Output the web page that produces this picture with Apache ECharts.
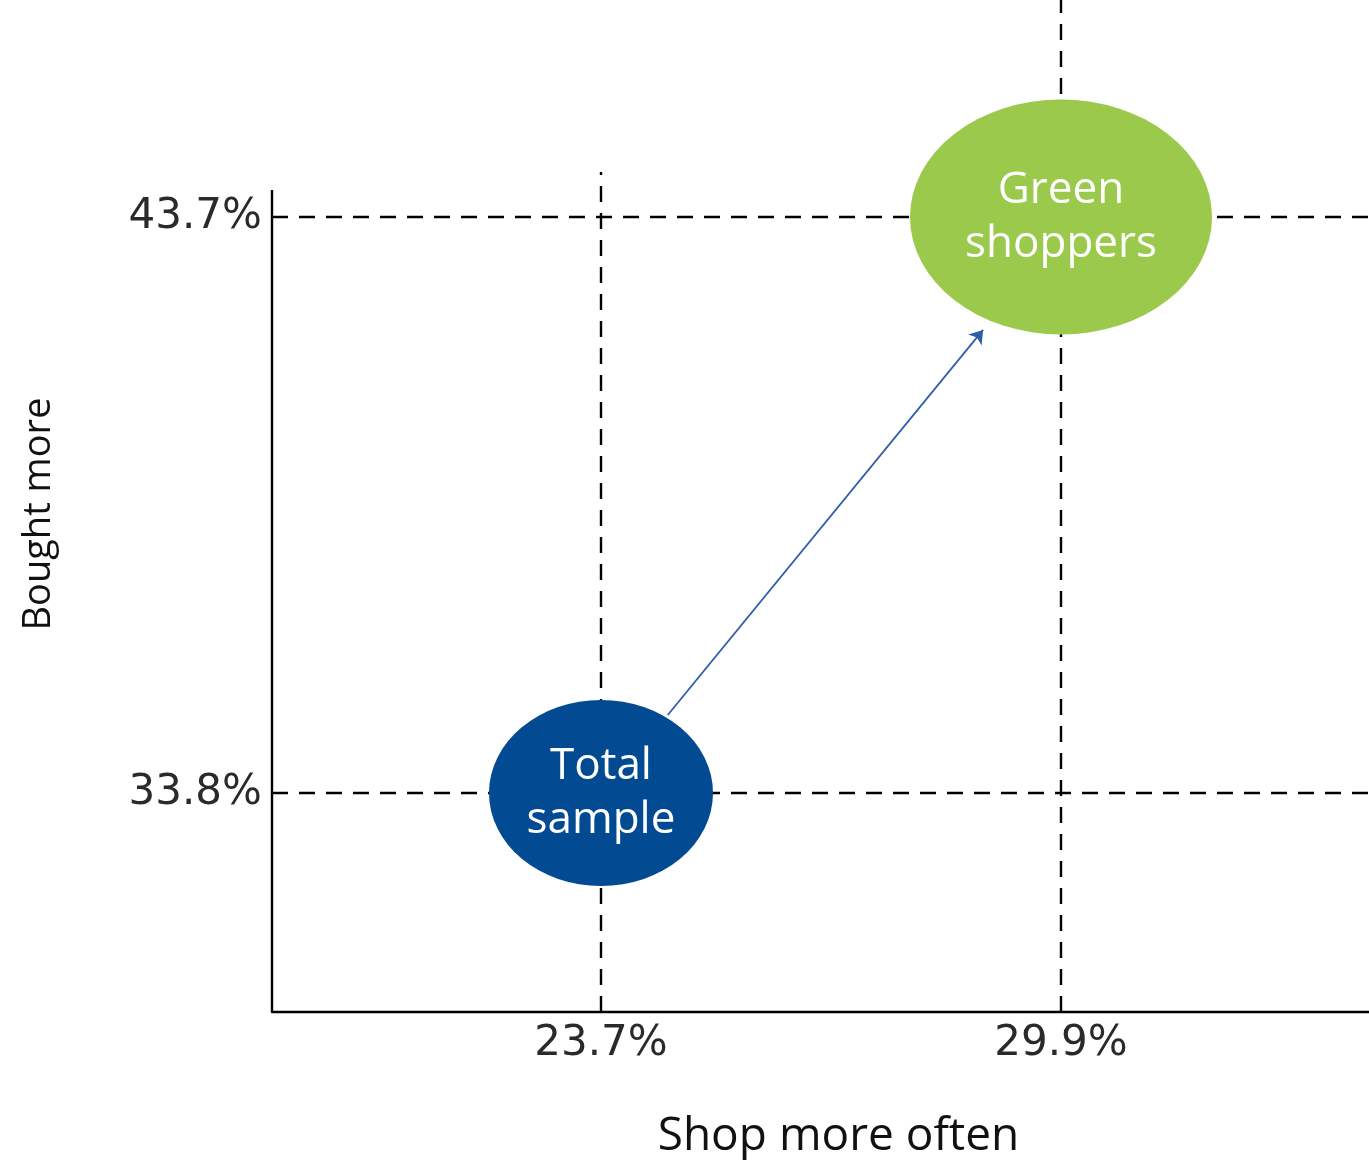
<!DOCTYPE html>
<html>
<head>
<meta charset="utf-8">
<script src="https://cdn.jsdelivr.net/npm/echarts@6/dist/echarts.min.js"></script>
<style>
html,body{margin:0;padding:0;background:#fff;}
#c{width:1369px;height:1160px;}
</style>
</head>
<body>
<div id="c"></div>
<script>
// ---- data ----
const categories = ['Total sample', 'Green shoppers'];
const labelLines = ['Total\nsample', 'Green\nshoppers'];
const shopMoreOften = [23.7, 29.9];   // x (%)
const boughtMore = [33.8, 43.7];      // y (%)
const xTicks = [23.7, 29.9];
const yTicks = [33.8, 43.7];
const arrowFrom = [24.6, 35.14];
const arrowTo = [28.85, 41.76];

// ---- view settings ----
const X_MIN = 19.266, X_MAX = 34.051;
const Y_MIN = 30.036, Y_MAX = 47.43;
const Y_AXIS_TOP = 44.164;     // where the drawn y axis line ends
const V_LINE_TOPS = [44.473, Y_MAX];
const bubbleColors = ['#024a92', '#9bc94c'];
const bubbleSizes = [[224, 186], [302, 235]];

const chart = echarts.init(document.getElementById('c'));

const dashStyle = { color: '#000', width: 2.4, type: [16, 11], opacity: 1 };

const refLines = [];
shopMoreOften.forEach((x, i) => {
  refLines.push([{ coord: [x, Y_MIN], lineStyle: dashStyle }, { coord: [x, V_LINE_TOPS[i]] }]);
});
boughtMore.forEach(y => {
  refLines.push([{ coord: [X_MIN, y], lineStyle: dashStyle }, { coord: [X_MAX, y] }]);
});
// y axis line (shorter than plot)
refLines.push([{ coord: [X_MIN, Y_MIN], lineStyle: { color: '#000', width: 2.4, type: 'solid', opacity: 1 } }, { coord: [X_MIN, Y_AXIS_TOP] }]);

chart.setOption({
  animation: false,
  grid: { left: 272, right: 0, top: 0, bottom: 148, containLabel: false, outerBoundsMode: 'none' },
  xAxis: {
    type: 'value', min: X_MIN, max: X_MAX,
    name: 'Shop more often', nameLocation: 'middle', nameGap: 102,
    nameTextStyle: { fontFamily: 'Open Sans', fontSize: 46, color: '#111', padding: [0, 0, 0, 36] },
    axisLine: { show: true, lineStyle: { color: '#000', width: 2.4 } },
    axisTick: { show: true, inside: true, length: 8, customValues: xTicks, lineStyle: { color: '#000', width: 2 } },
    axisLabel: {
      customValues: xTicks, margin: 11,
      formatter: v => v.toFixed(1) + '%',
      fontFamily: 'DejaVu Sans', fontSize: 42, color: '#2a2a2a'
    },
    splitLine: { show: false }
  },
  yAxis: {
    type: 'value', min: Y_MIN, max: Y_MAX,
    name: 'Bought more', nameLocation: 'middle', nameGap: 214, nameRotate: 90,
    nameTextStyle: { fontFamily: 'Open Sans', fontSize: 38, color: '#111', padding: [0, 16, 0, 0] },
    axisLine: { show: false },
    axisTick: { show: false },
    axisLabel: {
      customValues: yTicks, margin: 10,
      formatter: v => v.toFixed(1) + '%',
      fontFamily: 'DejaVu Sans', fontSize: 42, color: '#2a2a2a'
    },
    splitLine: { show: false }
  },
  series: [
    {
      type: 'scatter', z: 1, data: [], silent: true,
      markLine: { silent: true, symbol: 'none', label: { show: false }, animation: false, data: refLines }
    },
    {
      type: 'scatter', z: 5, silent: true,
      symbol: 'circle',
      itemStyle: { opacity: 1 },
      data: categories.map((c, i) => ({
        name: c,
        value: [shopMoreOften[i], boughtMore[i]],
        symbolSize: bubbleSizes[i],
        itemStyle: { color: bubbleColors[i], opacity: 1 },
        label: { formatter: labelLines[i] }
      })),
      label: {
        show: true, position: 'inside', color: '#ffffff', opacity: 1,
        fontFamily: 'Open Sans', fontSize: 44, lineHeight: 54
      },
      emphasis: { disabled: true }
    },
    {
      type: 'scatter', z: 6, data: [], silent: true,
      markLine: {
        silent: true, symbol: ['none', 'arrow'], symbolSize: 13,
        label: { show: false },
        lineStyle: { color: '#2f5ea8', width: 1.8, type: 'solid', opacity: 1 },
        data: [[{ coord: arrowFrom }, { coord: arrowTo }]]
      }
    }
  ]
});
</script>
</body>
</html>
